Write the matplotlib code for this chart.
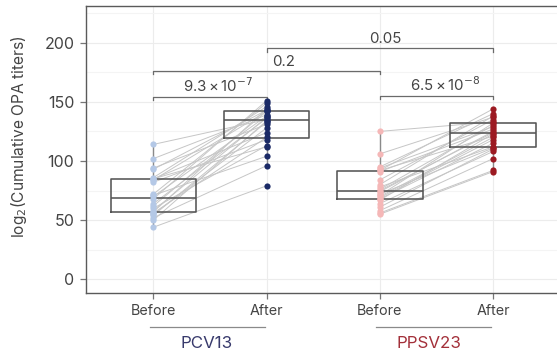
import matplotlib
matplotlib.use("Agg")
import matplotlib.pyplot as plt
import matplotlib.transforms as mtransforms
import numpy as np

plt.rcParams['font.family'] = ['Inter', 'DejaVu Sans']

# ---- data ----
categories = ["Before", "After", "Before", "After"]
groups = ["PCV13", "PPSV23"]

pcv13_before = [114, 102, 94, 93, 86, 85, 85, 84, 82, 72, 71, 70,
                68, 64, 62, 60, 58, 57, 56, 55, 54, 52, 50, 44]
pcv13_after = [135, 139, 131, 143, 146, 124, 112, 142, 118, 149, 104, 138,
               151, 136, 142, 113, 137, 144, 120, 128, 133, 96, 134, 79]

ppsv23_before = [125, 106, 95, 94, 92, 92, 91, 84, 80, 78, 76, 75,
                 74, 72, 71, 70, 69, 68, 67, 64, 61, 58, 56, 55]
ppsv23_after = [133, 137, 140, 129, 144, 121, 127, 135, 138, 112, 130, 124,
                125, 111, 132, 120, 118, 115, 123, 108, 110, 102, 92, 91]

p_labels = [r"9.3$\,$×$\,$10$^{-7}$", "0.2", "0.05", r"6.5$\,$×$\,$10$^{-8}$"]

series = [pcv13_before, pcv13_after, ppsv23_before, ppsv23_after]
point_colors = ["#b4c8e6", "#1b2a66", "#f5b7b7", "#9c1a22"]
group_colors = ["#383a6c", "#a3303a"]

W, H = 557, 356
fig = plt.figure(figsize=(W / 100, H / 100), dpi=100)
ax = fig.add_axes([85.5 / W, 1 - 292.5 / H, (561 - 85.5) / W, (292.5 - 6) / H])

pos = np.arange(4)
ax.set_xlim(-0.6, 3.6)
ax.set_ylim(-11.2, 231)

# grid
ax.set_yticks([0, 50, 100, 150, 200])
ax.set_yticks([25, 75, 125, 175, 225], minor=True)
ax.set_xticks(pos)
ax.set_xticklabels(categories)
ax.grid(True, which='major', color='#ececec', lw=0.8, zorder=0)
ax.grid(True, which='minor', axis='y', color='#f4f4f4', lw=0.8, zorder=0)
ax.set_axisbelow(True)

# paired lines
for (b, a, xb, xa) in [(pcv13_before, pcv13_after, 0, 1), (ppsv23_before, ppsv23_after, 2, 3)]:
    for vb, va in zip(b, a):
        ax.plot([xb, xa], [vb, va], color='#c6c6c6', lw=0.7, zorder=2)

# boxplots
ax.boxplot(series, positions=pos, widths=0.755, showfliers=False, showcaps=False,
           patch_artist=False, manage_ticks=False,
           boxprops=dict(color='#555555', lw=1.15),
           medianprops=dict(color='#555555', lw=1.15),
           whiskerprops=dict(color='#8a8a8a', lw=1.0), zorder=3)

# points
for x, vals, c in zip(pos, series, point_colors):
    ax.scatter(np.full(len(vals), x), vals, s=20, color=c, zorder=4, linewidths=0)

# significance brackets
brackets = [(0, 1, 154.3, 0.57), (0, 2, 176.0, 1.15), (1, 3, 195.2, 2.05), (2, 3, 155.1, 2.58)]
for (x0, x1, y, tx), lab in zip(brackets, p_labels):
    ax.plot([x0, x0, x1, x1], [y - 2.8, y, y, y - 2.8], color='#6a6a6a', lw=0.9, zorder=3)
    ax.text(tx, y + 1.8, lab, ha='center', va='bottom', fontsize=10.8, color='#444444')

# spines/ticks
for s in ['left', 'bottom', 'top']:
    ax.spines[s].set_color('#5a5a5a')
    ax.spines[s].set_linewidth(1.0)
ax.spines['right'].set_visible(False)
ax.tick_params(axis='both', which='major', length=4.5, width=0.9, color='#777777',
               labelcolor='#444444', labelsize=10.3, pad=3)
ax.tick_params(axis='y', which='major', labelsize=11.5, pad=3.5)
ax.tick_params(axis='y', which='minor', length=0)
ax.tick_params(axis='x', pad=4)

fig.text(19.5 / W, 1 - 137 / H, r"log$_2$(Cumulative OPA titers)", rotation=90,
         ha='center', va='center', fontsize=11.2, color='#444444')

# group labels under x axis
trans = mtransforms.blended_transform_factory(ax.transData, ax.transAxes)
for (x0, x1, tx), g, c in zip([(-0.03, 0.985, 0.465), (1.97, 2.985, 2.43)], groups, group_colors):
    ax.plot([x0, x1], [-0.1215, -0.1215], transform=trans, color='#8a8a8a', lw=0.9, clip_on=False)
    ax.text(tx, -0.1775, g, transform=trans, ha='center', va='center', fontsize=12.2, color=c)

fig.savefig("out.png", dpi=100)
